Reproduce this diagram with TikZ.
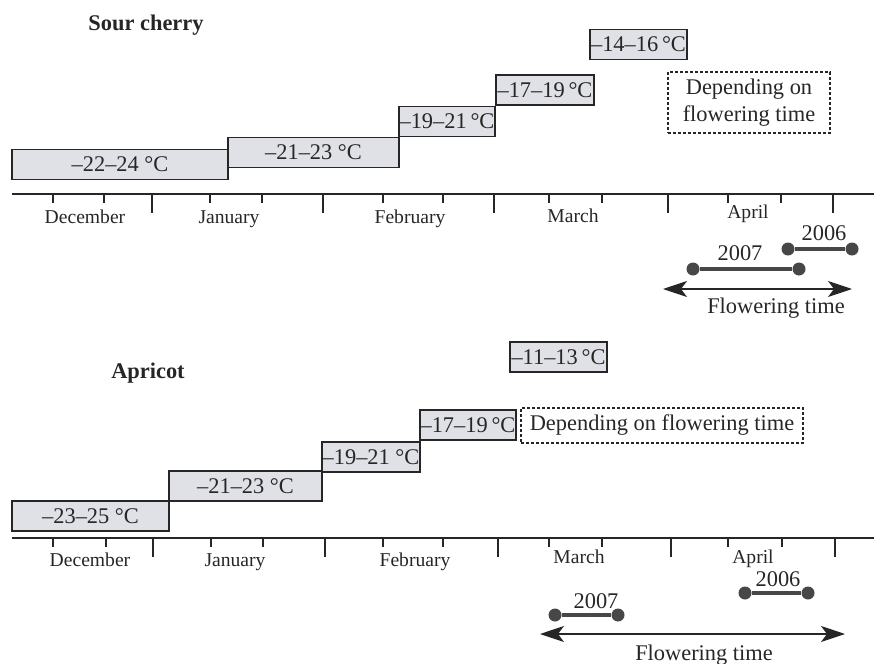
\documentclass[tikz,border=0pt]{standalone}
\usepackage{fontspec}
\setmainfont{Liberation Serif}
\usetikzlibrary{arrows.meta,positioning}
\definecolor{boxfill}{HTML}{DFE1E6}
\definecolor{ink}{HTML}{262626}

\begin{document}
\begin{tikzpicture}[x=0.5pt, y=-0.5pt,
  temp/.style={draw=ink, fill=boxfill, line width=0.6pt, inner sep=0pt, minimum height=15pt, font=\fontsize{11.2}{13}\selectfont, text=ink},
  note/.style={draw=ink, dash pattern=on 1.5pt off 1pt, line width=0.6pt, align=center, inner sep=0pt, font=\fontsize{11.2}{13.5}\selectfont, text=ink},
  month/.style={anchor=base, font=\fontsize{9.8}{12}\selectfont, text=ink},
  year/.style={anchor=base, font=\fontsize{11.2}{13}\selectfont, text=ink},
  heading/.style={anchor=base, font=\fontsize{11.2}{13}\selectfont\bfseries, text=ink},
  dot/.style={circle, fill=ink!85, inner sep=0pt, minimum size=6.5pt},
  yearspan/.style={line width=2pt, ink!85},
  timeline/.style={line width=1pt, ink},
  tickmark/.style={line width=0.6pt, ink},
  arr/.style={{Stealth[length=12pt,width=8pt,inset=3pt]}-{Stealth[length=12pt,width=8pt,inset=3pt]}, line width=0.6pt, ink}
]
  \useasboundingbox (0,0) rectangle (874,664);

  % sour cherry
  \node[heading] (cherry) at (146,31) {Sour cherry};
  \node[temp, minimum width=108pt] (c1) at (120,164.5) {–22–24 °C};
  \node[temp, minimum width=85.5pt] (c2) at (313.5,152.5) {–21–23 °C};
  \node[temp, minimum width=48pt] (c3) at (447,121.5) {–19–21\,°C};
  \node[temp, minimum width=49pt] (c4) at (545,90) {–17–19\,°C};
  \node[temp, minimum width=48.5pt] (c5) at (638.5,44.5) {–14–16\,°C};
  \node[note, minimum width=81pt, minimum height=30.5pt] (cnote) at (749,102.5) {Depending on\\flowering time};

  \coordinate (caxL) at (12,194);
  \coordinate (caxR) at (874,194);
  \draw[timeline] (caxL) -- (caxR);
  \foreach \x in {53,104,210,262,383,443,549,602,728,781}
    \draw[tickmark] (\x,194) -- ++(0,9);
  \foreach \x in {152,323,494,668,833}
    \draw[tickmark] (\x,194) -- ++(0,19);

  \node[month] (cdec) at (85,223) {December};
  \node[month] (cjan) at (229,223) {January};
  \node[month] (cfeb) at (410,223) {February};
  \node[month] (cmar) at (573,222) {March};
  \node[month] (capr) at (748,218) {April};

  \node[year] (c06) at (824,240) {2006};
  \node[dot] (c06a) at (788,249) {};
  \node[dot] (c06b) at (852,249) {};
  \draw[yearspan] (c06a) -- (c06b);
  \node[year] (c07) at (740,260) {2007};
  \node[dot] (c07a) at (693,269) {};
  \node[dot] (c07b) at (799,269) {};
  \draw[yearspan] (c07a) -- (c07b);
  \coordinate (cflL) at (663,289);
  \coordinate (cflR) at (852,289);
  \draw[arr] (cflL) -- (cflR);
  \node[year] (cfl) at (776,313) {Flowering time};

  % apricot
  \node[heading] (apricot) at (148,378) {Apricot};
  \node[temp, minimum width=78.5pt] (a1) at (90.5,516) {–23–25 °C};
  \node[temp, minimum width=76.5pt] (a2) at (245.5,486) {–21–23 °C};
  \node[temp, minimum width=49pt] (a3) at (371,457) {–19–21 °C};
  \node[temp, minimum width=48pt] (a4) at (468,425) {–17–19\,°C};
  \node[temp, minimum width=48.5pt] (a5) at (558.5,357) {–11–13\,°C};
  \node[note, minimum width=141pt, minimum height=17.5pt] (anote) at (662,425.5) {Depending on flowering time};

  \coordinate (aaxL) at (12,538);
  \coordinate (aaxR) at (874,538);
  \draw[timeline] (aaxL) -- (aaxR);
  \foreach \x in {53,106,211,263,383,443,549,602,728,782}
    \draw[tickmark] (\x,538) -- ++(0,9);
  \foreach \x in {153,325,498,671,835}
    \draw[tickmark] (\x,538) -- ++(0,19);

  \node[month] (adec) at (90,566) {December};
  \node[month] (ajan) at (235,566) {January};
  \node[month] (afeb) at (415,566) {February};
  \node[month] (amar) at (579,563) {March};
  \node[month] (aapr) at (753,563) {April};

  \node[year] (a06) at (778,586) {2006};
  \node[dot] (a06a) at (745,593) {};
  \node[dot] (a06b) at (808,593) {};
  \draw[yearspan] (a06a) -- (a06b);
  \node[year] (a07) at (596,608) {2007};
  \node[dot] (a07a) at (555,615) {};
  \node[dot] (a07b) at (618,615) {};
  \draw[yearspan] (a07a) -- (a07b);
  \coordinate (aflL) at (540,634);
  \coordinate (aflR) at (845,634);
  \draw[arr] (aflL) -- (aflR);
  \node[year] (afl) at (704,660) {Flowering time};
\end{tikzpicture}
\end{document}
